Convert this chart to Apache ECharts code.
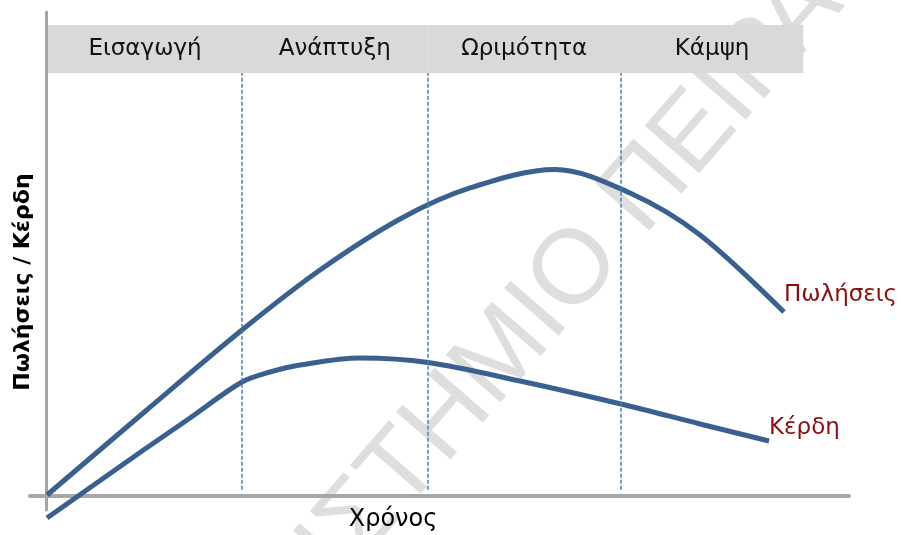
<!DOCTYPE html>
<html>
<head>
<meta charset="utf-8">
<script src="https://cdn.jsdelivr.net/npm/echarts@6/dist/echarts.min.js"></script>
<style>
  html, body { margin: 0; padding: 0; background: #ffffff; }
  #chart { width: 901px; height: 535px; }
</style>
</head>
<body>
<div id="chart"></div>
<script>
// Product life cycle: sales and profit over time (arbitrary units)
const salesX = [0.12, 12.32, 24.40, 34.12, 44.09, 52.80, 63.39, 72.73, 81.45, 91.90];
const salesY = [0.10, 17.37, 34.23, 46.64, 57.19, 63.60, 67.43, 62.56, 53.88, 37.95];
const profitX = [0.12, 12.32, 17.93, 24.40, 27.89, 31.63, 39.10, 47.57, 59.03, 71.61, 81.45, 90.04];
const profitY = [-4.65, 9.62, 16.03, 23.47, 25.54, 26.99, 28.44, 27.51, 23.68, 18.92, 14.79, 11.27];

// Phases of the cycle and where they start / end on the time axis
const phaseNames = ['Εισαγωγή', 'Ανάπτυξη', 'Ωριμότητα', 'Κάμψη'];
const phaseBounds = [0.25, 24.4, 47.5, 71.6, 94.3];
const bandBottom = 87.4;
const bandTop = 97.3;

const seriesNames = ['Πωλήσεις', 'Κέρδη'];
const axisTitles = { x: 'Χρόνος', y: 'Πωλήσεις / Κέρδη' };
const watermark = ['ΠΑΝΕΠΙΣΤΗΜΙΟ', 'ΠΕΙΡΑΙΩΣ'];

const FONT = '"DejaVu Sans", "Noto Sans", sans-serif';
const WM_FONT = '"Liberation Sans", Arial, sans-serif';
const CURVE = '#3a6090';
const LABEL_RED = '#8b0e0e';

const zip = (xs, ys) => xs.map((x, i) => [x, ys[i]]);

// gray header band split into the four phases
const phaseAreas = phaseNames.map((name, i) => [
  { name: name, xAxis: phaseBounds[i], yAxis: bandBottom },
  { xAxis: phaseBounds[i + 1], yAxis: bandTop }
]);

// dashed separators between phases, from the band down to the time axis
const separators = phaseBounds.slice(1, 4).map(x => [
  { coord: [x, 1.2] },
  { coord: [x, bandBottom] }
]);

const chart = echarts.init(document.getElementById('chart'), null, { renderer: 'canvas' });

const wmAngle = 49 * Math.PI / 180;

chart.setOption({
  animation: false,
  backgroundColor: '#ffffff',
  grid: { left: 30, right: 52, top: 12, bottom: 25 },
  xAxis: {
    type: 'value', min: -2, max: 100,
    axisLine: { show: true, onZero: true, lineStyle: { color: '#a6a6a6', width: 4 } },
    axisTick: { show: false }, axisLabel: { show: false }, splitLine: { show: false }
  },
  yAxis: {
    type: 'value', min: -3, max: 100,
    axisLine: { show: true, onZero: true, lineStyle: { color: '#a6a6a6', width: 3 } },
    axisTick: { show: false }, axisLabel: { show: false }, splitLine: { show: false }
  },
  graphic: [
    {
      type: 'text', x: 603, y: 240, rotation: wmAngle, z: -10, silent: true,
      style: { text: watermark[0], fill: '#dedede', font: '105px ' + WM_FONT, align: 'right', verticalAlign: 'middle' }
    },
    {
      type: 'text', x: 622, y: 218, rotation: wmAngle, z: -10, silent: true,
      style: { text: watermark[1], fill: '#dedede', font: '105px ' + WM_FONT, align: 'left', verticalAlign: 'middle' }
    },
    {
      type: 'text', x: 23, y: 282, rotation: Math.PI / 2, silent: true,
      style: { text: axisTitles.y, fill: '#000000', font: 'bold 22px ' + FONT, align: 'center', verticalAlign: 'middle' }
    },
    {
      type: 'text', x: 393, y: 520, silent: true,
      style: { text: axisTitles.x, fill: '#000000', font: '24px ' + FONT, align: 'center', verticalAlign: 'middle' }
    }
  ],
  series: [
    {
      name: seriesNames[0],
      type: 'line',
      data: zip(salesX, salesY),
      smooth: 0.33,
      symbol: 'none',
      clip: false,
      lineStyle: { color: CURVE, width: 5 },
      endLabel: {
        show: true, formatter: '{a}', color: LABEL_RED, fontFamily: FONT, fontSize: 23,
        distance: 0, offset: [0, -17]
      },
      markArea: {
        silent: true,
        itemStyle: { color: '#d9d9d9' },
        label: { show: true, position: 'inside', color: '#111111', fontFamily: FONT, fontSize: 23 },
        data: phaseAreas
      },
      markLine: {
        silent: true,
        symbol: 'none',
        label: { show: false },
        lineStyle: { color: '#4a7ebb', width: 1.5, type: [4, 2] },
        data: separators
      },
      z: 3
    },
    {
      name: seriesNames[1],
      type: 'line',
      data: zip(profitX, profitY),
      smooth: 0.33,
      symbol: 'none',
      clip: false,
      lineStyle: { color: CURVE, width: 5 },
      endLabel: {
        show: true, formatter: '{a}', color: LABEL_RED, fontFamily: FONT, fontSize: 23,
        distance: 0, offset: [0, -13]
      },
      z: 3
    }
  ]
});
</script>
</body>
</html>
